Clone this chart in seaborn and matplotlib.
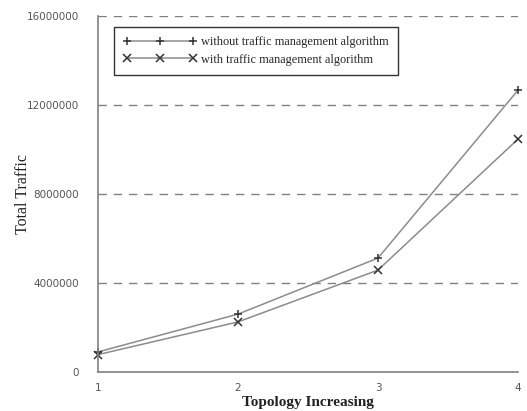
import seaborn as sns
import matplotlib.pyplot as plt
import pandas as pd

# data
topology = [1, 2, 3, 4]
without_tm = [900000, 2600000, 5120000, 12670000]
with_tm = [780000, 2250000, 4580000, 10470000]
names = ['without traffic management algorithm', 'with traffic management algorithm']

df = pd.DataFrame({
    'Topology': topology * 2,
    'Traffic': without_tm + with_tm,
    'Series': [names[0]] * 4 + [names[1]] * 4,
})

sns.set_style('white')
fig = plt.figure(figsize=(5.27, 4.11), dpi=100)
ax = fig.add_axes([0.186, 0.095, 0.797, 0.866])

sns.lineplot(data=df, x='Topology', y='Traffic', style='Series', hue='Series',
             palette=['#8c8c8c', '#8c8c8c'], markers={names[0]: '+', names[1]: 'x'},
             dashes=False, markersize=5.5, markeredgewidth=1.1, markeredgecolor='#333333',
             linewidth=1.1, ax=ax)
for ln in ax.lines:
    ln.set_clip_on(False)

ax.set_xlim(1, 4)
ax.set_ylim(0, 16000000)
ax.set_xticks(topology)
ax.set_yticks([0, 4000000, 8000000, 12000000, 16000000])
ax.set_yticklabels(['0', '4000000', '8000000', '12000000', '16000000'])
for y in [4000000, 8000000, 12000000, 16000000]:
    ax.axhline(y, color='#808080', linestyle=(0, (6, 5)), linewidth=1.0, zorder=0)

for s in ['top', 'right']:
    ax.spines[s].set_visible(False)
for s in ['left', 'bottom']:
    ax.spines[s].set_color('#808080')
    ax.spines[s].set_linewidth(1.2)
ax.tick_params(axis='y', direction='out', length=8, width=1, color='#808080',
               labelsize=7.5, labelcolor='#555555', pad=6)
ax.tick_params(axis='x', direction='out', length=5, width=1, color='#808080',
               labelsize=7.5, labelcolor='#555555', pad=3)

ax.set_xlabel('Topology Increasing', family='Liberation Serif', fontsize=11,
              fontweight='bold', color='#222222', labelpad=2)
ax.set_ylabel('Total Traffic', family='Liberation Serif', fontsize=11.5,
              color='#222222')
ax.yaxis.set_label_coords(-0.16, 0.5)

handles, labels = ax.get_legend_handles_labels()
leg = ax.legend(handles, labels, loc='upper left', bbox_to_anchor=(0.038, 0.969),
                borderaxespad=0, numpoints=3, handlelength=6.0, fancybox=False,
                edgecolor='#333333', framealpha=1,
                prop={'family': 'Liberation Serif', 'size': 8.8},
                borderpad=0.75, labelspacing=0.45, handletextpad=0.4)
leg.get_frame().set_linewidth(1.0)

fig.savefig('out.png', dpi=100)
